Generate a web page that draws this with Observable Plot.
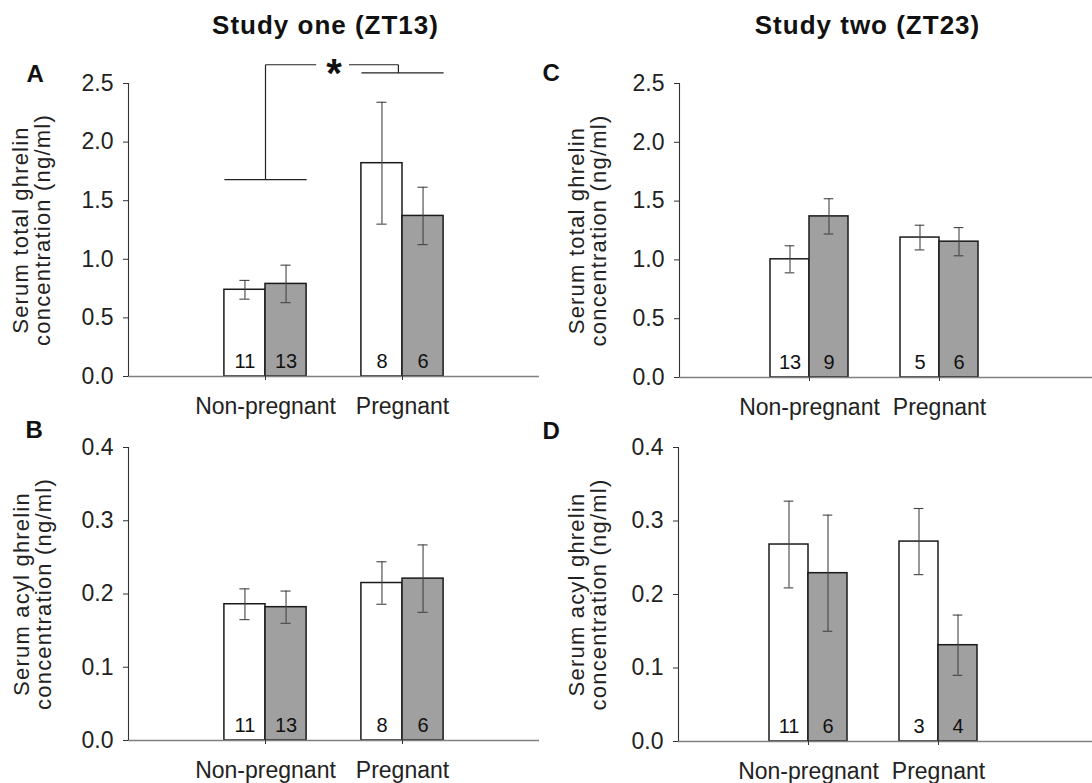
<!DOCTYPE html>
<html>
<head>
<meta charset="utf-8">
<script src="https://cdn.jsdelivr.net/npm/d3@7"></script>
<script src="https://cdn.jsdelivr.net/npm/@observablehq/plot@0.6"></script>
<style>
  body { margin: 0; background: #fff; }
  #fig { position: relative; width: 1092px; height: 783px; overflow: hidden; background: #fff;
         font-family: "Liberation Sans", Arial, sans-serif; }
  #fig svg { position: absolute; overflow: visible; }
</style>
</head>
<body>
<div id="fig"></div>
<script>
// Groups on the x axis and the two bar series inside each group
const groups = ["Non-pregnant", "Pregnant"];
const series = ["open", "filled"];

// Values are ordered: Non-pregnant open, Non-pregnant filled, Pregnant open, Pregnant filled

// A — Study one (ZT13), total ghrelin
const totalOneMean = [0.74, 0.79, 1.82, 1.37];
const totalOneSem  = [0.08, 0.16, 0.52, 0.245];
const totalOneN    = [11, 13, 8, 6];

// B — Study one (ZT13), acyl ghrelin
const acylOneMean = [0.186, 0.182, 0.215, 0.221];
const acylOneSem  = [0.021, 0.022, 0.029, 0.046];
const acylOneN    = [11, 13, 8, 6];

// C — Study two (ZT23), total ghrelin
const totalTwoMean = [1.005, 1.37, 1.19, 1.155];
const totalTwoSem  = [0.115, 0.15, 0.105, 0.12];
const totalTwoN    = [13, 9, 5, 6];

// D — Study two (ZT23), acyl ghrelin
const acylTwoMean = [0.268, 0.229, 0.272, 0.131];
const acylTwoSem  = [0.059, 0.079, 0.045, 0.041];
const acylTwoN    = [11, 6, 3, 4];

// Axis ticks
const totalTicks = [0, 0.5, 1.0, 1.5, 2.0, 2.5];
const acylTicks  = [0, 0.1, 0.2, 0.3, 0.4];

// Significance bracket in A: lower-left bar, top bar, lower-right bar
const sigLevels = [1.68, 2.66, 2.59];

const titles = ["Study one (ZT13)", "Study two (ZT23)"];
const FONT = "'Liberation Sans', Arial, sans-serif";
const BAR_W = 0.3;
const CAP = 0.037;

function rowsOf(mean, sem, n) {
  return mean.map((m, i) => {
    const g = Math.floor(i / 2) + 1;
    const s = i % 2;
    const x1 = g - BAR_W + s * BAR_W;
    return {group: groups[g - 1], series: series[s], mean: m, sem: sem[i], n: n[i],
            x1, x2: x1 + BAR_W, cx: x1 + BAR_W / 2};
  });
}

function panel(cfg) {
  const rows = rowsOf(cfg.mean, cfg.sem, cfg.n);
  const marks = [
    Plot.rect(rows.filter(d => d.series === "open"),
      {x1: "x1", x2: "x2", y1: 0, y2: "mean", fill: "#ffffff", stroke: "#1a1a1a", strokeWidth: 1.5}),
    Plot.rect(rows.filter(d => d.series === "filled"),
      {x1: "x1", x2: "x2", y1: 0, y2: "mean", fill: "#a0a0a0", stroke: "#1a1a1a", strokeWidth: 1.5}),
    // standard-error whiskers with caps
    Plot.ruleX(rows, {x: "cx", y1: d => d.mean - d.sem, y2: d => d.mean + d.sem, stroke: "#444", strokeWidth: 1.1}),
    Plot.ruleY(rows, {x1: d => d.cx - CAP, x2: d => d.cx + CAP, y: d => d.mean + d.sem, stroke: "#444", strokeWidth: 1.1}),
    Plot.ruleY(rows, {x1: d => d.cx - CAP, x2: d => d.cx + CAP, y: d => d.mean - d.sem, stroke: "#444", strokeWidth: 1.1}),
    // sample sizes at the foot of each bar
    Plot.text(rows, {x: "cx", y: 0, text: d => String(d.n), dy: -15, fontSize: 20, fill: "#111"}),
    // axis lines
    Plot.ruleY([0], {stroke: "#808080", strokeWidth: 1.5}),
    Plot.ruleX([0], {stroke: "#333", strokeWidth: 1.1}),
    Plot.axisY({ticks: cfg.ticks, tickFormat: d3.format(".1f"), tickSize: 5, tickPadding: 10,
                fontSize: 23, label: null, color: "#222", stroke: "#333"}),
    Plot.axisX({ticks: [1, 2], tickFormat: d => groups[d - 1], tickSize: 4, tickPadding: 17,
                fontSize: 23, label: null, color: "#222", stroke: "#333"}),
    // y-axis title
    Plot.text([cfg.yLabel], {frameAnchor: "left", dx: cfg.labelDx, rotate: -90, textAnchor: "middle",
                lineAnchor: "top", lineHeight: 1.0, fontSize: 22, fill: "#222"}),
    // panel letter
    Plot.text([cfg.letter], {frameAnchor: "top-left", dx: cfg.letterDx, dy: cfg.letterDy,
                textAnchor: "start", lineAnchor: "bottom", fontSize: 24, fontWeight: "bold", fill: "#111"})
  ];
  if (cfg.title) {
    marks.push(Plot.text([cfg.title], {frameAnchor: "top-left", dx: cfg.titleDx, dy: cfg.titleDy,
      textAnchor: "middle", lineAnchor: "bottom", fontSize: 26, fontWeight: "bold", fill: "#111"}));
  }
  if (cfg.extra) marks.push(...cfg.extra);

  const svg = Plot.plot({
    width: cfg.width, height: cfg.height,
    marginLeft: cfg.marginLeft, marginRight: cfg.marginRight,
    marginTop: cfg.marginTop, marginBottom: cfg.marginBottom,
    x: {domain: [0, cfg.xMax]},
    y: {domain: [0, cfg.ticks[cfg.ticks.length - 1]]},
    style: {fontFamily: FONT, background: "transparent", overflow: "visible"},
    marks
  });
  svg.style.left = cfg.left + "px";
  svg.style.top = cfg.top + "px";
  d3.select(svg).selectAll("text").each(function () {
    const t = this.textContent;
    if (/ghrelin/.test(t)) d3.select(this).attr("letter-spacing", "1.2px");
    if (/^Study/.test(t)) d3.select(this).attr("letter-spacing", "1px");
  });
  document.getElementById("fig").appendChild(svg);
}

// bracket segments over panel A, built from group positions
const [sigLow, sigTop, sigLowRight] = sigLevels;
const starX = 1.5;
const bracket = [
  {x1: 1 - BAR_W, x2: 1 + BAR_W, y1: sigLow, y2: sigLow},
  {x1: 1, x2: 1, y1: sigLow, y2: sigTop},
  {x1: 1, x2: starX - 0.13, y1: sigTop, y2: sigTop},
  {x1: starX + 0.11, x2: 2 - 0.03, y1: sigTop, y2: sigTop},
  {x1: 2 - 0.03, x2: 2 - 0.03, y1: sigTop, y2: sigLowRight},
  {x1: 2 - BAR_W, x2: 2 + BAR_W, y1: sigLowRight, y2: sigLowRight}
];
const sigMarks = [
  Plot.link(bracket, {x1: "x1", x2: "x2", y1: "y1", y2: "y2", stroke: "#222", strokeWidth: 1.2}),
  Plot.text(["*"], {x: starX, y: sigTop, lineAnchor: "bottom", dy: 22, fontSize: 40, fontWeight: "bold", fill: "#111"})
];

panel({mean: totalOneMean, sem: totalOneSem, n: totalOneN, ticks: totalTicks,
  yLabel: "Serum total ghrelin\nconcentration (ng/ml)", letter: "A", title: titles[0],
  left: 0, top: 0, width: 546, height: 420, marginLeft: 128, marginRight: 7, marginTop: 83, marginBottom: 44,
  xMax: 3, labelDx: -116, letterDx: -102, letterDy: -2, titleDx: 197, titleDy: -50, extra: sigMarks});

panel({mean: acylOneMean, sem: acylOneSem, n: acylOneN, ticks: acylTicks,
  yLabel: "Serum acyl ghrelin\nconcentration (ng/ml)", letter: "B",
  left: 0, top: 420, width: 546, height: 363, marginLeft: 128, marginRight: 7, marginTop: 27, marginBottom: 43,
  xMax: 3, labelDx: -115, letterDx: -103, letterDy: -10});

panel({mean: totalTwoMean, sem: totalTwoSem, n: totalTwoN, ticks: totalTicks,
  yLabel: "Serum total ghrelin\nconcentration (ng/ml)", letter: "C", title: titles[1],
  left: 546, top: 0, width: 546, height: 420, marginLeft: 133, marginRight: 0, marginTop: 83, marginBottom: 43,
  xMax: 413 / 130, labelDx: -111, letterDx: -137, letterDy: -3, titleDx: 188, titleDy: -50});

panel({mean: acylTwoMean, sem: acylTwoSem, n: acylTwoN, ticks: acylTicks,
  yLabel: "Serum acyl ghrelin\nconcentration (ng/ml)", letter: "D",
  left: 546, top: 420, width: 546, height: 363, marginLeft: 132, marginRight: 0, marginTop: 27, marginBottom: 42,
  xMax: 414 / 130, labelDx: -110, letterDx: -136, letterDy: -9});
</script>
</body>
</html>
